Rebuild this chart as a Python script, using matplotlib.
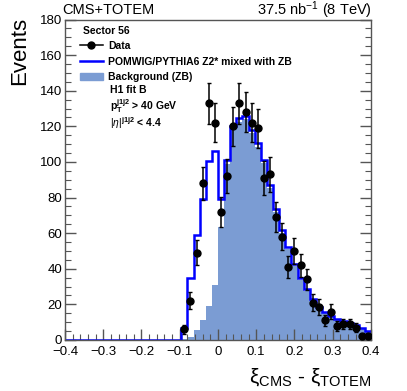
import numpy as np
import matplotlib
matplotlib.use("Agg")
import matplotlib.pyplot as plt
from matplotlib.lines import Line2D
from matplotlib.patches import Patch

plt.rcParams['font.family'] = ['Liberation Sans', 'DejaVu Sans']
plt.rcParams['mathtext.fontset'] = 'custom'
plt.rcParams['mathtext.rm'] = 'Liberation Sans'
plt.rcParams['mathtext.it'] = 'Liberation Sans:italic'
plt.rcParams['mathtext.bf'] = 'Liberation Sans:bold'

# 50 bins between -0.4 and 0.4 (xi_CMS - xi_TOTEM)
edges = np.linspace(-0.4, 0.4, 51)
zeros = [0] * 19

# POMWIG/PYTHIA6 Z2* mixed with ZB (total MC)
mc_total = zeros + [6.9, 35, 59, 79, 100.5, 106, 79, 101, 120, 124.5,
                    126, 118, 110.5, 101, 87, 73.5, 61.5, 52, 42.7, 34.7,
                    28.5, 22.9, 18.7, 15.9, 13.5, 12, 10.9, 9.4, 8.3, 6.5, 5]
# Background (ZB)
background = zeros + [0.5, 1.5, 5.6, 11.2, 19, 31, 63.5, 99, 118, 122.5,
                      124, 116, 108.5, 99.5, 85.5, 72, 60, 51, 41.5, 33.7,
                      27.7, 22.2, 18, 15.3, 13, 11.5, 10.4, 9, 7.9, 6.2, 4.7]
# Data
data = zeros + [6, 22, 49, 88, 133, 122, 72, 92, 120, 133,
                128, 122, 119, 91, 93, 69, 58, 41, 50, 42,
                34, 21, 18.5, 11, 16, 8, 9, 9, 7, 2, 2]

data = np.array(data, dtype=float)
centers = 0.5 * (edges[:-1] + edges[1:])
half_w = 0.5 * (edges[1] - edges[0])
sel = data > 0

W, H = 407, 391
fig = plt.figure(figsize=(W / 100, H / 100), dpi=100)
ax = fig.add_axes([65 / W, 1 - 340 / H, 306 / W, 320.5 / H])

fill_col = '#7b9cd3'
ax.stairs(background, edges, fill=True, color=fill_col, zorder=1)
ax.stairs(mc_total, edges, color='#0000ff', lw=1.8, zorder=2)
ax.errorbar(centers[sel], data[sel], yerr=np.sqrt(data[sel]), xerr=half_w * 0.5,
            fmt='o', color='black', ms=5, elinewidth=1.1, capsize=1.5,
            capthick=1.0, zorder=3)

ax.set_xlim(-0.4, 0.4)
ax.set_ylim(0, 180)
ax.set_xticks(np.arange(-0.4, 0.41, 0.1))
ax.set_xticks(np.arange(-0.4, 0.401, 0.02), minor=True)
ax.set_yticks(np.arange(0, 181, 20))
ax.set_yticks(np.arange(0, 181, 5), minor=True)
ax.tick_params(which='both', direction='in', right=True, top=False,
               labelsize=9.5, color='#555555')
ax.tick_params(which='major', length=8, width=1)
ax.tick_params(which='minor', length=4, width=0.8)
ax.tick_params(axis='y', pad=2)
ax.tick_params(axis='x', pad=4.5)
ax.set_xticklabels(['\u22120.4', '\u22120.3', '\u22120.2', '\u22120.1', '0',
                    '0.1', '0.2', '0.3', '0.4'])
for s in ax.spines.values():
    s.set_color('#555555')
    s.set_linewidth(1)

ax.set_ylabel('Events', fontsize=16)
ax.yaxis.set_label_coords(-0.115, 1.008)
ax.yaxis.label.set_horizontalalignment('right')
fig.text(372 / W, 1 - 377 / H, r'ξ$_{\mathrm{CMS}}$ - ξ$_{\mathrm{TOTEM}}$',
         fontsize=15, ha='right', va='center')

fig.text(62 / W, 1 - 10 / H, 'CMS+TOTEM', fontsize=10.5, va='center')
fig.text(372 / W, 1 - 10 / H, r'37.5 nb$^{-1}$ (8 TeV)', fontsize=10.5,
         ha='right', va='center')

# legend block
fs = 7.5
fig.text(83 / W, 1 - 31 / H, 'Sector 56', fontsize=fs, fontweight='bold', va='center')
handles = [Line2D([], [], color='black', marker='o', ms=5, lw=1.1),
           Line2D([], [], color='#0000ff', lw=1.8),
           Patch(facecolor=fill_col, edgecolor=fill_col)]
labels = ['Data', 'POMWIG/PYTHIA6 Z2* mixed with ZB', 'Background (ZB)']
leg = ax.legend(handles, labels, loc='upper left', frameon=False,
                bbox_to_anchor=(80 / W, 1 - 41 / H), bbox_transform=fig.transFigure,
                prop={'weight': 'bold', 'size': fs}, handlelength=2.2,
                handletextpad=0.5, labelspacing=0.55, borderaxespad=0,
                borderpad=0)
fig.text(110 / W, 1 - 90 / H, 'H1 fit B', fontsize=fs, fontweight='bold', va='center')
fig.text(110 / W, 1 - 106 / H, r'$\mathbf{p_{T}^{j1j2}}$ > 40 GeV', fontsize=fs,
         fontweight='bold', va='center')
fig.text(110 / W, 1 - 123 / H, r'$|\eta|^{\mathbf{j1j2}}$ < 4.4', fontsize=fs,
         fontweight='bold', va='center')

fig.savefig('out.png', dpi=100)
